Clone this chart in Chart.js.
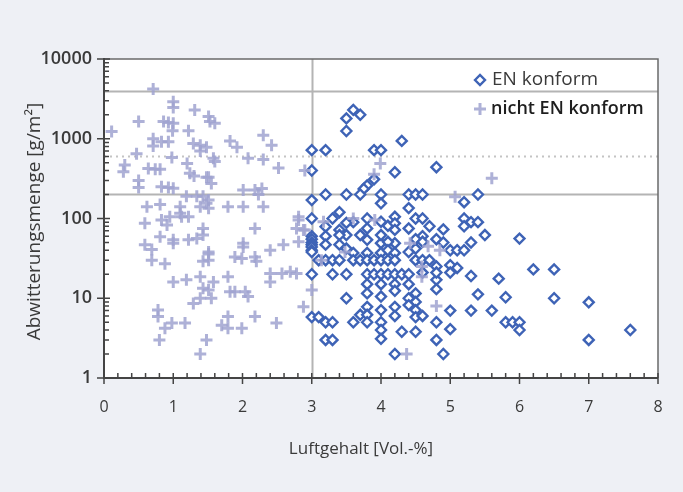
<!DOCTYPE html>
<html>
<head>
<meta charset="utf-8">
<script src="https://cdn.jsdelivr.net/npm/chart.js@4.4.1/dist/chart.umd.min.js"></script>
<style>
  html, body { margin: 0; padding: 0; background: #eef0f5; }
  #wrap { width: 683px; height: 492px; }
</style>
</head>
<body>
<div id="wrap"><canvas id="chart" width="683" height="492"></canvas></div>
<script>
// Luftgehalt [Vol.-%] / Abwitterungsmenge [g/m²]
var enKonform = [
  [3.6, 2300], [3.5, 1800], [3.7, 2000], [3.5, 1250], [4.3, 940],
  [3.0, 720], [3.2, 720], [3.9, 720], [4.0, 720],
  [4.8, 440], [3.0, 400], [4.2, 380], [3.9, 310], [3.8, 260], [3.75, 235],
  [3.0, 170], [3.2, 200], [3.5, 200], [3.7, 200], [4.0, 200], [4.0, 155],
  [4.4, 200], [4.5, 200], [4.6, 200], [4.4, 135], [5.4, 200], [5.2, 160],
  [3.0, 100], [3.4, 120], [3.3, 100], [3.8, 100], [3.6, 90], [3.5, 88],
  [4.5, 100], [4.6, 100], [5.2, 100], [5.3, 90], [5.4, 90], [5.2, 80],
  [4.7, 80], [4.9, 73], [5.5, 62], [6.0, 56], [5.3, 50], [4.6, 60],
  [5.0, 40], [5.1, 40], [5.2, 40], [4.8, 55], [4.9, 50],
  [3.2, 79], [3.4, 72], [3.5, 62], [4.0, 91], [4.1, 81], [4.2, 105],
  [4.2, 87], [4.2, 72], [4.4, 75], [3.8, 75],
  [3.0, 60], [3.0, 55], [3.0, 50], [3.0, 47], [3.0, 44], [3.0, 40], [3.0, 38],
  [3.2, 60], [3.4, 62], [3.2, 47], [3.4, 47], [3.5, 42], [4.0, 49], [4.2, 49],
  [4.4, 38], [4.5, 42], [4.0, 62], [4.1, 51], [4.5, 55], [4.6, 51], [3.7, 62],
  [3.8, 54], [3.6, 37], [3.8, 37], [4.0, 37], [4.1, 40], [4.2, 37],
  [3.1, 30], [3.2, 30], [3.3, 30], [3.4, 30], [3.6, 30], [3.7, 30], [3.8, 30],
  [3.9, 30], [4.0, 30], [4.1, 30], [4.2, 30], [4.5, 30], [4.6, 30], [4.7, 30],
  [5.0, 26], [5.1, 24], [4.8, 25], [5.0, 21], [4.8, 17],
  [3.0, 20], [3.3, 20], [3.5, 20], [3.8, 20], [3.9, 20], [4.0, 20], [4.1, 20],
  [4.2, 20], [4.3, 20], [4.4, 20], [4.6, 21], [4.8, 21], [5.3, 19], [5.7, 17.6],
  [6.2, 23], [6.5, 23],
  [3.8, 15], [4.0, 15], [4.2, 15], [4.4, 15], [4.8, 13], [4.2, 12.4], [3.8, 11.5],
  [4.0, 10.5], [3.5, 10], [4.5, 11.5], [4.5, 9], [4.4, 10], [5.4, 11.2],
  [5.8, 10.3], [6.5, 10], [7.0, 8.9],
  [3.8, 7.8], [3.7, 6.2], [3.8, 6.2], [3.8, 5], [3.6, 5], [4.0, 7.1], [4.0, 5],
  [4.0, 4], [4.0, 3.1], [4.2, 7.8], [4.2, 6], [4.4, 8.2], [4.5, 7.1], [4.5, 5.8],
  [4.3, 3.8], [4.5, 3.8], [3.0, 5.8], [3.1, 5.8], [3.2, 5], [3.3, 5], [3.2, 3],
  [3.3, 3], [4.2, 2], [5.0, 7], [5.3, 7], [5.6, 7], [4.6, 6], [5.8, 5], [5.9, 5],
  [6.0, 5], [6.0, 4], [4.8, 5], [5.0, 4.1], [4.8, 3], [7.0, 3], [7.6, 4], [4.9, 2]
];

var nichtEnKonform = [
  [0.71, 4200], [1.0, 2900], [1.0, 2470], [1.31, 2300],
  [0.5, 1650], [0.86, 1650], [0.93, 1600], [1.0, 1560], [0.99, 1260], [1.22, 1260],
  [1.51, 1900], [1.53, 1650], [0.11, 1230], [1.6, 1560],
  [0.71, 1000], [0.83, 920], [0.93, 920], [0.71, 810], [1.29, 870], [1.39, 830],
  [1.48, 780], [1.39, 700], [0.47, 650], [0.98, 580],
  [2.3, 1110], [1.82, 940], [1.92, 780], [2.42, 830], [1.58, 570], [1.6, 520],
  [2.08, 570], [2.3, 550], [2.52, 430], [2.9, 400],
  [0.3, 470], [0.28, 385], [0.64, 425], [0.74, 415], [0.81, 415], [1.2, 490],
  [1.24, 370], [1.3, 340], [1.48, 330], [1.51, 330], [1.55, 275],
  [0.5, 300], [0.5, 245], [0.83, 250], [0.93, 245], [1.0, 240], [1.19, 190],
  [1.34, 190], [1.43, 190], [1.51, 170], [1.51, 134],
  [2.01, 227], [2.18, 227], [2.28, 238], [2.23, 200],
  [0.62, 140], [0.81, 150], [1.1, 140], [1.1, 116], [0.95, 105], [1.39, 140],
  [1.48, 155], [1.12, 105], [1.22, 105],
  [1.79, 140], [2.01, 140], [2.3, 140], [2.81, 105],
  [0.59, 87], [0.83, 96], [0.91, 83], [0.81, 59], [1.0, 54], [1.0, 49],
  [1.22, 54], [1.34, 56], [1.43, 75], [1.43, 62], [0.59, 47], [0.69, 41],
  [0.69, 30], [0.88, 27], [1.43, 29], [1.51, 38],
  [1.0, 16], [1.19, 17], [1.39, 18.6], [1.43, 13.3], [1.29, 8.6], [1.39, 10],
  [0.78, 7.1], [0.78, 5.9], [0.98, 4.9], [1.17, 4.9], [0.88, 4.2], [0.8, 3],
  [1.48, 3], [1.39, 2],
  [2.18, 75], [2.01, 49], [2.01, 44], [2.59, 47], [2.81, 96], [2.78, 75],
  [2.88, 72], [2.81, 51], [2.4, 40], [1.89, 33], [1.99, 31.5], [2.18, 33],
  [2.2, 29], [1.51, 36], [1.51, 30],
  [2.4, 20.5], [2.57, 20.5], [2.69, 21.5], [2.78, 20.5], [2.4, 16], [1.79, 18.6],
  [1.58, 16], [1.82, 12.1], [1.89, 12.1], [2.04, 12.1], [2.08, 10.5], [1.51, 12.7],
  [1.55, 10], [3.0, 12.7], [2.88, 7.8], [1.79, 5.9], [1.7, 4.6], [1.79, 4.2],
  [1.99, 4.2], [2.18, 5.9], [2.49, 4.9],
  [3.99, 490], [3.9, 360], [5.6, 320], [5.07, 187], [4.68, 45], [4.85, 40],
  [4.59, 25], [4.8, 8], [4.37, 2], [3.48, 38], [3.14, 30], [4.42, 49],
  [4.59, 18.6], [3.17, 91], [3.6, 100], [3.91, 96], [2.9, 72]
];

var seriesNames = ["EN konform", "nicht EN konform"];
var xTicks = [0, 1, 2, 3, 4, 5, 6, 7, 8];
var yTicks = [1, 10, 100, 1000, 10000];
var limitLines = [4000, 200];   // solid
var limitDotted = [600];        // dotted
var limitX = [3];

var BLUE = "#3e63b6";
var CROSS = "rgba(160,163,208,0.85)";
var TXT = "#3a3a3a";
var FONT = "'Open Sans', 'Noto Sans', sans-serif";

function toXY(list) {
  return list.map(function (p) { return { x: p[0], y: p[1] }; });
}

var decor = {
  id: "decor",
  beforeDraw: function (chart) {
    var ctx = chart.ctx, a = chart.chartArea;
    ctx.save();
    ctx.fillStyle = "#eef0f5";
    ctx.fillRect(0, 0, chart.width, chart.height);
    ctx.fillStyle = "#ffffff";
    ctx.fillRect(a.left, a.top, a.right - a.left, a.bottom - a.top);
    ctx.restore();
  },
  beforeDatasetsDraw: function (chart) {
    var ctx = chart.ctx, a = chart.chartArea;
    var xs = chart.scales.x, ys = chart.scales.y;
    ctx.save();
    ctx.lineWidth = 2;
    ctx.strokeStyle = "#b4b4b4";
    limitLines.forEach(function (v) {
      var py = Math.round(ys.getPixelForValue(v)) + 0.5;
      ctx.beginPath(); ctx.moveTo(a.left, py); ctx.lineTo(a.right, py); ctx.stroke();
    });
    limitX.forEach(function (v) {
      var px = Math.round(xs.getPixelForValue(v)) + 0.5;
      ctx.beginPath(); ctx.moveTo(px, a.top); ctx.lineTo(px, a.bottom); ctx.stroke();
    });
    ctx.strokeStyle = "#c4c4c4";
    ctx.setLineDash([2, 4]);
    limitDotted.forEach(function (v) {
      var py = Math.round(ys.getPixelForValue(v)) + 0.5;
      ctx.beginPath(); ctx.moveTo(a.left, py); ctx.lineTo(a.right, py); ctx.stroke();
    });
    ctx.restore();
  },
  afterDraw: function (chart) {
    var ctx = chart.ctx, a = chart.chartArea;
    var xs = chart.scales.x, ys = chart.scales.y;
    ctx.save();
    // frame
    ctx.strokeStyle = "#6a6a6a";
    ctx.lineWidth = 1.5;
    ctx.beginPath();
    ctx.moveTo(a.left, a.top); ctx.lineTo(a.right, a.top); ctx.lineTo(a.right, a.bottom);
    ctx.stroke();
    ctx.strokeStyle = "#444";
    ctx.lineWidth = 2;
    ctx.beginPath();
    ctx.moveTo(a.left, a.top - 1); ctx.lineTo(a.left, a.bottom); ctx.lineTo(a.right, a.bottom);
    ctx.stroke();

    // ticks
    ctx.lineWidth = 1.5;
    ctx.beginPath();
    xTicks.forEach(function (v, i) {
      var px = xs.getPixelForValue(v);
      ctx.moveTo(px, a.bottom - 5); ctx.lineTo(px, a.bottom + 6);
      if (i < xTicks.length - 1) {
        for (var k = 1; k < 5; k++) {
          var mx = xs.getPixelForValue(v + k * 0.2);
          ctx.moveTo(mx, a.bottom - 5); ctx.lineTo(mx, a.bottom);
        }
      }
    });
    yTicks.forEach(function (v, i) {
      var py = ys.getPixelForValue(v);
      ctx.moveTo(a.left - 7, py); ctx.lineTo(a.left + 6, py);
      if (i < yTicks.length - 1) {
        for (var k = 2; k < 10; k++) {
          var my = ys.getPixelForValue(v * k);
          ctx.moveTo(a.left, my); ctx.lineTo(a.left + 5, my);
        }
      }
    });
    ctx.stroke();

    // axis titles
    ctx.fillStyle = TXT;
    ctx.textAlign = "center";
    ctx.textBaseline = "middle";
    ctx.font = "19px " + FONT;
    ctx.save();
    ctx.translate(35, (a.top + a.bottom) / 2 + 3);
    ctx.rotate(-Math.PI / 2);
    ctx.fillText("Abwitterungsmenge [g/m²]", 0, 0);
    ctx.restore();
    ctx.font = "17px " + FONT;
    ctx.fillText("Luftgehalt [Vol.-%]", 361, 449);

    // legend markers
    var sets = chart.data.datasets;
    var lx = 480, ly = [80, 109];
    sets.forEach(function (ds, i) {
      ctx.strokeStyle = ds.borderColor;
      ctx.fillStyle = ds.backgroundColor;
      ctx.lineWidth = ds.borderWidth;
      Chart.helpers.drawPoint(ctx, {
        pointStyle: ds.pointStyle,
        radius: ds.pointRadius,
        borderWidth: ds.borderWidth,
        rotation: 0
      }, lx, ly[i]);
    });

    // legend texts
    ctx.textAlign = "left";
    ctx.textBaseline = "middle";
    ctx.fillStyle = TXT;
    ctx.font = "19px " + FONT;
    ctx.fillText(seriesNames[0], lx + 12, ly[0]);
    ctx.fillStyle = "#1e1e1e";
    ctx.font = "600 18px " + FONT;
    ctx.fillText(seriesNames[1], lx + 11, ly[1]);
    ctx.restore();
  }
};

var chart = new Chart(document.getElementById("chart"), {
  type: "scatter",
  data: {
    datasets: [
      {
        label: seriesNames[0],
        data: toXY(enKonform),
        pointStyle: "rectRot",
        pointRadius: 5,
        pointHoverRadius: 5,
        borderWidth: 2.4,
        borderColor: BLUE,
        backgroundColor: "#ffffff",
        order: 2
      },
      {
        label: seriesNames[1],
        data: toXY(nichtEnKonform),
        pointStyle: "cross",
        pointRadius: 6,
        pointHoverRadius: 6,
        borderWidth: 3,
        borderColor: CROSS,
        backgroundColor: CROSS,
        order: 1
      }
    ]
  },
  options: {
    responsive: false,
    animation: false,
    devicePixelRatio: 1,
    layout: { padding: { top: 59, right: 25, left: 0, bottom: 0 } },
    plugins: {
      legend: { display: false },
      tooltip: { enabled: false }
    },
    scales: {
      x: {
        type: "linear",
        min: 0,
        max: 8,
        afterBuildTicks: function (s) { s.ticks = xTicks.map(function (v) { return { value: v }; }); },
        afterFit: function (s) { s.height = 114; },
        grid: { display: false, drawTicks: false },
        border: { display: false },
        ticks: { padding: 20, color: TXT, font: { family: FONT, size: 16, weight: "500" } }
      },
      y: {
        type: "logarithmic",
        min: 1,
        max: 10000,
        afterBuildTicks: function (s) { s.ticks = yTicks.map(function (v) { return { value: v }; }); },
        afterFit: function (s) { s.width = 104; },
        grid: { display: false, drawTicks: false },
        border: { display: false },
        ticks: {
          padding: 12,
          color: TXT,
          font: { family: FONT, size: 18, weight: "600" },
          callback: function (v) { return String(v); }
        }
      }
    }
  },
  plugins: [decor]
});
</script>
</body>
</html>
